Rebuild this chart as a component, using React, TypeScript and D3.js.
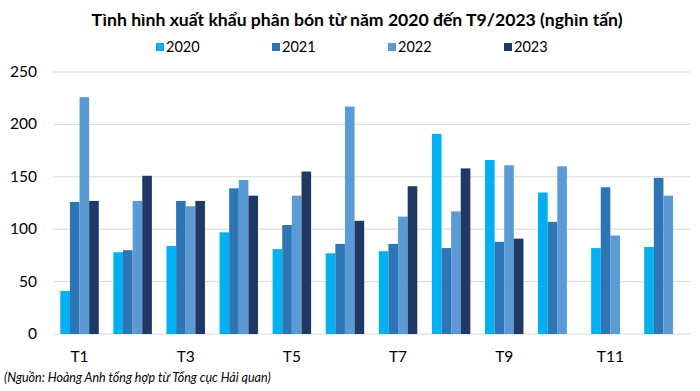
import React from 'react';
import * as d3 from 'd3';

const months = ['T1', 'T2', 'T3', 'T4', 'T5', 'T6', 'T7', 'T8', 'T9', 'T10', 'T11', 'T12'];
const years = ['2020', '2021', '2022', '2023'];
const colors = ['#00b0f0', '#2e75b6', '#5b9bd5', '#1f3864'];

const v2020 = [41, 78, 84, 97, 81, 77, 79, 191, 166, 135, 82, 83];
const v2021 = [126, 80, 127, 139, 104, 86, 86, 82, 88, 107, 140, 149];
const v2022 = [226, 127, 122, 147, 132, 217, 112, 117, 161, 160, 94, 132];
const v2023 = [127, 151, 127, 132, 155, 108, 141, 158, 91, null, null, null];
const series = [v2020, v2021, v2022, v2023];

const yTicks = [0, 50, 100, 150, 200, 250];
const xLabels = ['T1', 'T3', 'T5', 'T7', 'T9', 'T11'];

const W = 700, H = 391;
const left = 53, right = 690, top = 72, bottom = 334;
const font = 'Lato, "Open Sans", sans-serif';

export default function App() {
  const x0 = d3.scaleBand().domain(months).range([left, right]).paddingInner(0.275).paddingOuter(0.1375);
  const x1 = d3.scaleBand().domain(years).range([0, x0.bandwidth()]);
  const y = d3.scaleLinear().domain([0, 250]).range([bottom, top]);

  return (
    <svg width={W} height={H} style={{ position: 'absolute', left: 0, top: 0, background: '#fff' }}>
      <text x={357} y={26} textAnchor="middle" fontFamily={font} fontWeight="bold" fontSize={17.6} fill="#000">
        Tình hình xuất khẩu phân bón từ năm 2020 đến T9/2023 (nghìn tấn)
      </text>
      {years.map((yr, i) => {
        const lx = [156, 272, 388, 504][i];
        return (
          <g key={yr}>
            <rect x={lx} y={43} width={8} height={8} fill={colors[i]} />
            <text x={lx + 10} y={52} fontFamily={font} fontSize={14.5} fill="#000">{yr}</text>
          </g>
        );
      })}
      {yTicks.map(t => (
        <g key={t}>
          <line x1={left} x2={right} y1={y(t)} y2={y(t)} stroke="#d9d9d9" strokeWidth={1} />
          <text x={37} y={y(t) + 5} textAnchor="end" fontFamily={font} fontSize={15.5} fill="#000">{t}</text>
        </g>
      ))}
      {months.map((m, mi) => (
        <g key={m} transform={`translate(${x0(m)},0)`}>
          {series.map((s, si) => {
            const v = s[mi];
            if (v == null) return null;
            return (
              <rect key={si} x={x1(years[si])} y={y(v)} width={x1.bandwidth()} height={bottom - y(v)} fill={colors[si]} />
            );
          })}
        </g>
      ))}
      {xLabels.map(l => (
        <text key={l} x={(x0(l) as number) + x0.bandwidth() / 2} y={362} textAnchor="middle" fontFamily={font} fontSize={15.5} fill="#000">{l}</text>
      ))}
      <text x={4} y={382} fontFamily={font} fontStyle="italic" fontSize={12.5} fill="#000">
        (Nguồn: Hoàng Anh tổng hợp từ Tổng cục Hải quan)
      </text>
    </svg>
  );
}
